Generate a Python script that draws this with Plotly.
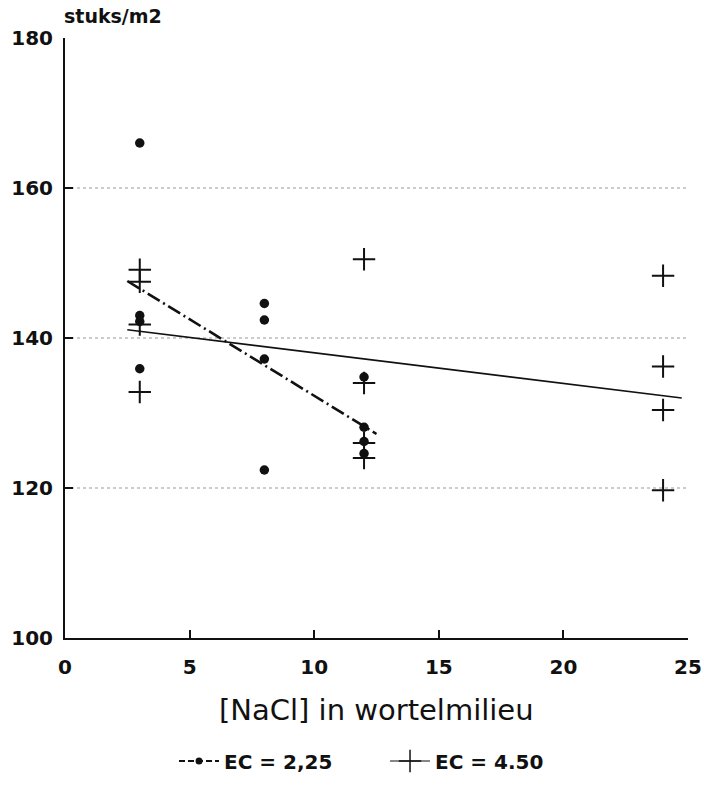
import plotly.graph_objects as go

# ---- data ----
nacl_ec225 = [3, 3, 3, 3, 8, 8, 8, 8, 12, 12, 12, 12]
stuks_ec225 = [166.0, 143.0, 142.2, 135.9, 144.6, 142.4, 137.2, 122.4, 134.8, 128.1, 126.2, 124.6]

nacl_ec450 = [3, 3, 3, 3, 12, 12, 12, 12, 24, 24, 24, 24]
stuks_ec450 = [149.1, 147.5, 141.8, 132.8, 150.5, 134.0, 126.0, 124.0, 148.3, 136.2, 130.4, 119.7]

trend_x_ec225 = [2.5, 12.5]
trend_y_ec225 = [147.6, 127.2]
trend_x_ec450 = [2.5, 24.75]
trend_y_ec450 = [141.1, 132.0]

legend_names = ["EC = 2,25", "EC = 4.50"]
x_ticks = [0, 5, 10, 15, 20, 25]
x_inner_ticks = [5, 10, 15, 20]
y_ticks = [100, 120, 140, 160, 180]
y_inner_ticks = [120, 140, 160]
grid_vals = [120, 140, 160]

FONT = "DejaVu Sans"
BLACK = "#111111"

fig = go.Figure()

# regression lines
fig.add_trace(go.Scatter(x=trend_x_ec225, y=trend_y_ec225, mode="lines",
                         line=dict(color=BLACK, width=2.6, dash="14px,4px,2px,4px"),
                         showlegend=False, hoverinfo="skip"))
fig.add_trace(go.Scatter(x=trend_x_ec450, y=trend_y_ec450, mode="lines",
                         line=dict(color=BLACK, width=1.7),
                         showlegend=False, hoverinfo="skip"))

# data points
fig.add_trace(go.Scatter(x=nacl_ec225, y=stuks_ec225, mode="markers",
                         marker=dict(symbol="circle", size=9.5, color=BLACK),
                         showlegend=False))
fig.add_trace(go.Scatter(x=nacl_ec450, y=stuks_ec450, mode="markers",
                         marker=dict(symbol="cross-thin", size=16,
                                     line=dict(color=BLACK, width=2)),
                         showlegend=False))

# legend entries
fig.add_trace(go.Scatter(x=[None], y=[None], mode="lines+markers", name=legend_names[0],
                         line=dict(color=BLACK, width=2, dash="6px,3px"),
                         marker=dict(symbol="circle", size=7, color=BLACK)))
fig.add_trace(go.Scatter(x=[None], y=[None], mode="lines+markers", name=legend_names[1],
                         line=dict(color=BLACK, width=1.2),
                         marker=dict(symbol="cross-thin", size=16,
                                     line=dict(color=BLACK, width=1.5))))

# dotted horizontal grid lines
for g in grid_vals:
    fig.add_shape(type="line", xref="paper", x0=0, x1=1, yref="y", y0=g, y1=g,
                  line=dict(color="#999999", width=1, dash="dot"), layer="below")

fig.update_layout(
    width=704, height=789,
    margin=dict(l=65, r=16, t=38, b=151, autoexpand=False),
    plot_bgcolor="white", paper_bgcolor="white",
    font=dict(family=FONT, color=BLACK),
    xaxis=dict(range=[0, 25], tickvals=x_ticks, ticktext=[str(v) for v in x_ticks],
               showline=True, linecolor=BLACK, linewidth=2, ticks="",
               showgrid=False, zeroline=False, automargin=False,
               tickfont=dict(family=FONT, size=20, weight="bold", color=BLACK),
               ticklabelstandoff=10),
    yaxis=dict(range=[100, 180], tickvals=y_ticks, ticktext=[str(v) for v in y_ticks],
               showline=True, linecolor=BLACK, linewidth=2, ticks="",
               showgrid=False, zeroline=False, automargin=False,
               tickfont=dict(family=FONT, size=20, weight="bold", color=BLACK),
               ticklabelstandoff=6),
    xaxis2=dict(range=[0, 25], overlaying="x", anchor="y", side="bottom",
                tickvals=x_inner_ticks, ticks="inside", ticklen=8, tickwidth=1.5,
                tickcolor=BLACK, showticklabels=False, showgrid=False, zeroline=False,
                showline=False, automargin=False),
    yaxis2=dict(range=[100, 180], overlaying="y", anchor="x", side="left",
                tickvals=y_inner_ticks, ticks="inside", ticklen=8, tickwidth=1.5,
                tickcolor=BLACK, showticklabels=False, showgrid=False, zeroline=False,
                showline=False, automargin=False),
    legend=dict(orientation="h", x=0.175, xanchor="left", y=-0.205, yanchor="middle",
                font=dict(family=FONT, size=20, weight="bold", color=BLACK),
                itemwidth=40, entrywidth=156, bgcolor="rgba(0,0,0,0)"),
    showlegend=True,
)

# dummy trace to activate the secondary axes used for inner tick marks
fig.add_trace(go.Scatter(x=[None], y=[None], xaxis="x2", yaxis="y2",
                         showlegend=False, hoverinfo="skip"))

fig.add_annotation(text="stuks/m2", xref="paper", yref="paper", x=-0.005, y=1.037,
                   xanchor="left", yanchor="middle", showarrow=False,
                   font=dict(family=FONT, size=19, weight="bold", color=BLACK))
fig.add_annotation(text="[NaCl] in wortelmilieu", xref="paper", yref="paper",
                   x=0.5, y=-0.12, xanchor="center", yanchor="middle", showarrow=False,
                   font=dict(family=FONT, size=29, color=BLACK))

fig.write_html("out.html", config={"displayModeBar": False},
               post_script="document.body.style.margin='0';document.body.style.overflow='hidden';")
